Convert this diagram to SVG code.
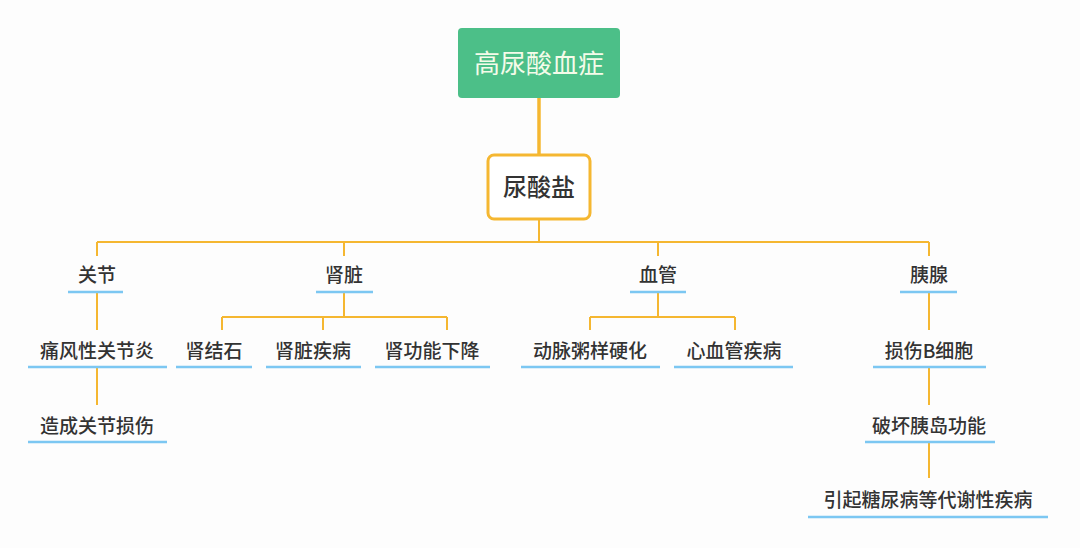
<svg xmlns="http://www.w3.org/2000/svg" width="1080" height="548" viewBox="0 0 1080 548">
<style>
text{font-family:"Noto Sans CJK SC","Noto Sans",sans-serif;text-anchor:middle;fill:#333;font-weight:500}
.t{font-size:19px}
.u{stroke:#7cc7f2;stroke-width:2.5}
.c{stroke:#f5b731;stroke-width:2;fill:none}
</style>
<rect width="1080" height="548" fill="#fdfdfd"/>
<g id="connectors">
<path class="c" style="stroke-width:3.5" d="M539 98V155"/>
<path class="c" d="M539 219V242M97 242H929M97 242V256M344 242V256M658 242V256M929 242V256"/>
<path class="c" d="M97 292V330M97 367V405"/>
<path class="c" d="M344 292V317M222 317H447M222 317V330M323 317V330M447 317V330"/>
<path class="c" d="M658 292V317M590 317H735M590 317V330M735 317V330"/>
<path class="c" d="M929 292V330M929 367V405M929 442V478"/>
</g>
<g id="root"><rect x="458" y="28" width="162" height="70" rx="4" fill="#4cbf88"/><text x="539" y="73" style="font-size:26px;fill:#f4fbe9;font-weight:400">高尿酸血症</text></g>
<g id="n1"><rect x="488" y="155" width="102" height="64" rx="6" fill="#fff" stroke="#f5b731" stroke-width="3"/><text x="539" y="196" style="font-size:24px">尿酸盐</text></g>
<g id="guanjie"><text class="t" x="97" y="282">关节</text><path class="u" d="M68 292H123"/></g>
<g id="shenzang"><text class="t" x="344" y="282">肾脏</text><path class="u" d="M316 292H373"/></g>
<g id="xueguan"><text class="t" x="658" y="282">血管</text><path class="u" d="M630 292H686"/></g>
<g id="yixian"><text class="t" x="929" y="282">胰腺</text><path class="u" d="M900 292H957"/></g>
<g id="tongfeng"><text class="t" x="97" y="358">痛风性关节炎</text><path class="u" d="M28 367H167"/></g>
<g id="zaocheng"><text class="t" x="97" y="433">造成关节损伤</text><path class="u" d="M28 442H167"/></g>
<g id="shenjieshi"><text class="t" x="214" y="358">肾结石</text><path class="u" d="M176 367H252"/></g>
<g id="shenzangjibing"><text class="t" x="313" y="358">肾脏疾病</text><path class="u" d="M266 367H361"/></g>
<g id="shengongneng"><text class="t" x="432" y="358">肾功能下降</text><path class="u" d="M375 367H490"/></g>
<g id="dongmai"><text class="t" x="590" y="358">动脉粥样硬化</text><path class="u" d="M521 367H660"/></g>
<g id="xinxueguan"><text class="t" x="734" y="358">心血管疾病</text><path class="u" d="M674 367H793"/></g>
<g id="sunshang"><text class="t" x="929" y="358">损伤B细胞</text><path class="u" d="M873 367H986"/></g>
<g id="pohuai"><text class="t" x="929" y="433">破坏胰岛功能</text><path class="u" d="M865 442H995"/></g>
<g id="yinqi"><text class="t" x="928" y="507">引起糖尿病等代谢性疾病</text><path class="u" d="M808 517H1048"/></g>
</svg>
